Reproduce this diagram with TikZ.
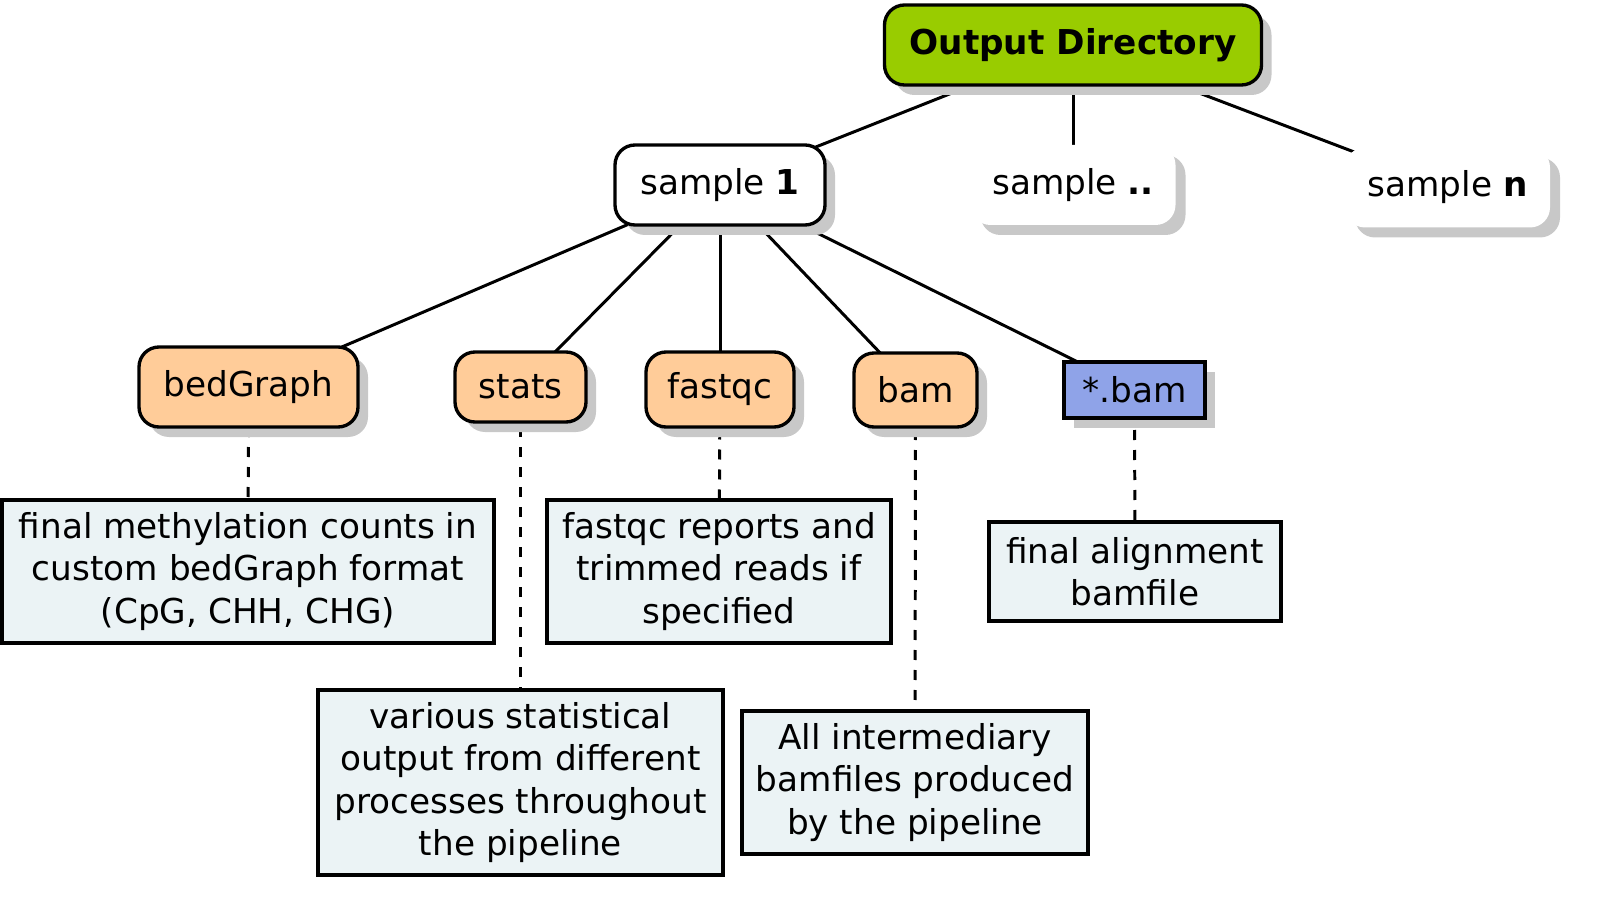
\documentclass[tikz,border=0pt]{standalone}
\usepackage{fontspec}
\setmainfont{DejaVu Sans}
\usetikzlibrary{shadows,backgrounds}

\definecolor{dirgreen}{RGB}{153,204,0}
\definecolor{subpeach}{RGB}{255,204,153}
\definecolor{bamblue}{RGB}{143,163,232}
\definecolor{descfill}{RGB}{235,243,245}
\definecolor{shadowgray}{RGB}{200,200,200}

\begin{document}
\begin{tikzpicture}[every node/.style={font=\fontsize{19.5}{24.2}\selectfont, align=center, inner sep=0pt},
	every path/.style={draw=black, line width=1.7pt},
	shade box/.style={drop shadow={shadow xshift=0.2cm, shadow yshift=-0.2cm, fill=shadowgray, draw=none, opacity=1}},
	dirbox/.style={shade box, rectangle, rounded corners=0.4cm, draw=black, line width=1.9pt, fill=dirgreen, minimum width=7.54cm, minimum height=1.6cm, font=\fontsize{19.5}{24.2}\selectfont\bfseries},
	samplebox/.style={shade box, rectangle, rounded corners=0.4cm, draw=black, line width=1.9pt, fill=white, minimum width=4.2cm, minimum height=1.6cm},
	ghostbox/.style={shade box, rectangle, rounded corners=0.4cm, draw=none, fill=white, minimum width=4.1cm, minimum height=1.6cm},
	subbox/.style={shade box, rectangle, rounded corners=0.4cm, draw=black, line width=1.9pt, fill=subpeach},
	filebox/.style={shade box, rectangle, draw=black, line width=1.9pt, fill=bamblue, minimum width=2.82cm, minimum height=1.12cm},
	descbox/.style={rectangle, draw=black, line width=1.9pt, fill=descfill},
	link/.style={line width=1.7pt},
	dashlink/.style={line width=1.7pt, dash pattern=on 0.2cm off 0.2cm}]
			\useasboundingbox[draw=none] (0,0) rectangle (32.16,-18.02);
			
			% top level
			\node[dirbox] (outdir) at (21.46,-0.9){Output Directory};
			
			% samples
			\node[samplebox] (s1) at (14.4,-3.7){sample \textbf{1}};
			\node[ghostbox] (sdots) at (21.46,-3.7){sample \textbf{..}};
			\node[ghostbox] (sn) at (28.95,-3.75){sample \textbf{n}};
			
			% sample folders
			\node[subbox, minimum width=4.38cm, minimum height=1.6cm] (bedgraph) at (4.97,-7.74){bedGraph};
			\node[subbox, minimum width=2.62cm, minimum height=1.4cm] (stats) at (10.41,-7.74){stats};
			\node[subbox, minimum width=2.96cm, minimum height=1.5cm] (fastqc) at (14.4,-7.79){fastqc};
			\node[subbox, minimum width=2.46cm, minimum height=1.48cm] (bam) at (18.31,-7.8){bam};
			\node[filebox] (bamfile) at (22.69,-7.8){*.bam};
			
			% descriptions
			\node[descbox, minimum width=9.84cm, minimum height=2.86cm] (d1) at (4.96,-11.43){final methylation counts in\\custom bedGraph format\\(CpG, CHH, CHG)};
			\node[descbox, minimum width=8.1cm, minimum height=3.7cm] (d2) at (10.41,-15.65){various statistical\\output from different\\processes throughout\\the pipeline};
			\node[descbox, minimum width=6.88cm, minimum height=2.86cm] (d3) at (14.38,-11.43){fastqc reports and\\trimmed reads if\\specified};
			\node[descbox, minimum width=6.92cm, minimum height=2.86cm] (d4) at (18.3,-15.65){All intermediary\\bamfiles produced\\by the pipeline};
			\node[descbox, minimum width=5.84cm, minimum height=1.98cm] (d5) at (22.7,-11.43){final alignment\\bamfile};
			
			\begin{scope}[on background layer]
			\path[link] (outdir.center) edge (s1.center);
			\path[link] (outdir.center) edge (sdots.center);
			\path[link] (outdir.center) edge (sn.center);
			
			\path[link] (s1.center) edge (bedgraph.center);
			\path[link] (s1.center) edge (stats.center);
			\path[link] (s1.center) edge (fastqc.center);
			\path[link] (s1.center) edge (bam.center);
			\path[link] (s1.center) edge (bamfile.center);
			
			\path[dashlink] (bedgraph.center) edge (d1.center);
			\path[dashlink] (stats.center) edge (d2.center);
			\path[dashlink] (fastqc.center) edge (d3.center);
			\path[dashlink] (bam.center) edge (d4.center);
			\path[dashlink] (bamfile.center) edge (d5.center);
			\end{scope}
			\end{tikzpicture}
\end{document}
